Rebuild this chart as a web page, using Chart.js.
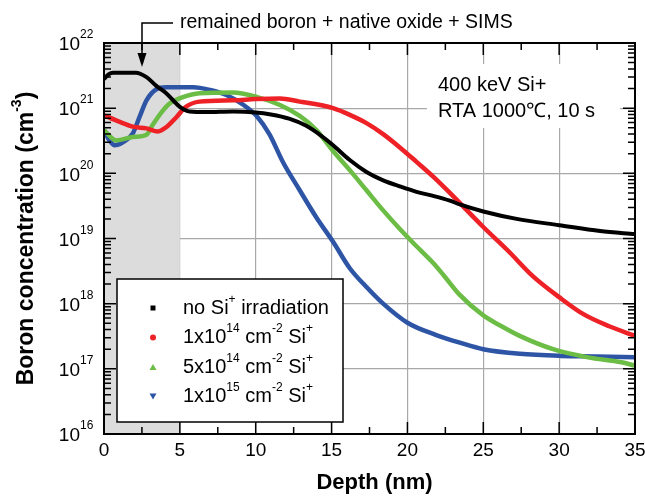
<!DOCTYPE html>
<html>
<head>
<meta charset="utf-8">
<script src="https://cdn.jsdelivr.net/npm/chart.js@4.4.1/dist/chart.umd.min.js"></script>
<style>
  html, body { margin: 0; padding: 0; background: #fff; }
  canvas { display: block; }
</style>
</head>
<body>
<canvas id="boronChart" width="645" height="497"></canvas>
<script>
// depth (nm) and boron concentration (cm^-3)
const depthNoSi = [0, 0.3, 0.6, 1.2, 2.1, 2.8, 3.45, 4.1, 5.0, 5.65, 6.75, 8.5, 10, 11.0, 12.2, 13.3, 14.3, 15.1, 16.2, 17.3, 18.4, 19.5, 20.6, 21.7, 22.8, 23.5, 25, 27.2, 30, 32.7, 35];
const concNoSi = [2.8e21, 3.3e21, 3.5e21, 3.5e21, 3.5e21, 3.0e21, 2.2e21, 1.7e21, 1.05e21, 8.9e20, 8.7e20, 8.9e20, 8.6e20, 8.0e20, 6.9e20, 5.4e20, 3.8e20, 2.7e20, 1.6e20, 1.05e20, 7.8e19, 6.3e19, 5.2e19, 4.5e19, 3.8e19, 3.3e19, 2.6e19, 2.0e19, 1.6e19, 1.3e19, 1.17e19];

const depth1e14 = [0, 1.0, 1.9, 2.8, 3.55, 4.1, 4.8, 5.4, 6.3, 8.5, 10, 11.6, 12.9, 14, 15.1, 16.2, 17.3, 18.4, 19.5, 20.6, 21.7, 22.8, 25, 26.6, 28.3, 30, 31.6, 33.3, 35];
const conc1e14 = [7.8e20, 6.2e20, 5.2e20, 4.9e20, 4.4e20, 5.1e20, 7.4e20, 1.05e21, 1.26e21, 1.32e21, 1.38e21, 1.41e21, 1.26e21, 1.15e21, 1.0e21, 7.9e20, 5.9e20, 4.0e20, 2.5e20, 1.5e20, 8.9e19, 5.0e19, 1.5e19, 6.6e18, 2.6e18, 1.26e18, 6.9e17, 4.5e17, 3.2e17];

const depth5e14 = [0, 0.8, 1.9, 2.8, 3.2, 3.8, 4.3, 5.2, 6.3, 8.5, 10.1, 11.6, 12.9, 14, 15.1, 16.2, 17.3, 18.4, 19.5, 20.6, 21.7, 22.4, 23.4, 25, 26.2, 27.4, 29.6, 31.9, 34.1, 35];
const conc5e14 = [4.6e20, 3.2e20, 3.6e20, 3.9e20, 5.5e20, 8.7e20, 1.17e21, 1.48e21, 1.7e21, 1.74e21, 1.48e21, 1.12e21, 7.6e20, 4.6e20, 2.2e20, 1.12e20, 5.5e19, 2.7e19, 1.4e19, 7.6e18, 4.2e18, 2.7e18, 1.4e18, 6.6e17, 4.5e17, 3.2e17, 2.0e17, 1.5e17, 1.26e17, 1.12e17];

const depth1e15 = [0, 0.36, 0.7, 1.24, 1.9, 2.35, 2.8, 3.45, 4.1, 5.9, 7.0, 8.1, 9.2, 10.1, 10.9, 11.8, 12.9, 14, 15.1, 16.2, 17.3, 18.4, 20, 21.9, 23.5, 25, 27.4, 30.1, 32.5, 35];
const conc1e15 = [4.6e20, 3.2e20, 2.7e20, 3.0e20, 4.1e20, 7.4e20, 1.32e21, 1.95e21, 2.1e21, 2.1e21, 1.9e21, 1.58e21, 1.12e21, 7.4e20, 4.0e20, 1.48e20, 5.5e19, 2.1e19, 8.9e18, 3.5e18, 1.8e18, 1.0e18, 5.1e17, 3.3e17, 2.5e17, 2.0e17, 1.7e17, 1.58e17, 1.55e17, 1.5e17];

const xTicks = [0, 5, 10, 15, 20, 25, 30, 35];
const yDecades = [16, 17, 18, 19, 20, 21, 22];
const shadeEnd = 5; // nm, oxide / remained boron zone

const FONT = '"Liberation Sans", Arial, Helvetica, sans-serif';

function pts(xs, ys) {
  return xs.map((d, i) => ({ x: d, y: ys[i] }));
}

// text with superscript pieces, parts = [[text, isSup], ...]
function richWidth(ctx, parts, size, weight) {
  let w = 0;
  parts.forEach(([t, sup]) => {
    ctx.font = weight + ' ' + (sup ? Math.round(size * 0.62) : size) + 'px ' + FONT;
    w += ctx.measureText(t).width;
  });
  return w;
}
function drawRich(ctx, parts, x, y, size, weight) {
  let cx = x;
  parts.forEach(([t, sup]) => {
    ctx.font = weight + ' ' + (sup ? Math.round(size * 0.62) : size) + 'px ' + FONT;
    ctx.fillText(t, cx, sup ? y - size * 0.42 : y);
    cx += ctx.measureText(t).width;
  });
}

const series = [
  { label: [['no Si', 0], ['+', 1], [' irradiation', 0]], xs: depthNoSi, ys: concNoSi, color: '#000000', marker: 'square', width: 4 },
  { label: [['1x10', 0], ['14', 1], [' cm', 0], ['-2', 1], [' Si', 0], ['+', 1]], xs: depth1e14, ys: conc1e14, color: '#ee2127', marker: 'circle', width: 4.5 },
  { label: [['5x10', 0], ['14', 1], [' cm', 0], ['-2', 1], [' Si', 0], ['+', 1]], xs: depth5e14, ys: conc5e14, color: '#6cbd45', marker: 'up', width: 4.5 },
  { label: [['1x10', 0], ['15', 1], [' cm', 0], ['-2', 1], [' Si', 0], ['+', 1]], xs: depth1e15, ys: conc1e15, color: '#2e55a5', marker: 'down', width: 4.5 }
];

const deco = {
  id: 'deco',
  beforeDatasetsDraw(chart) {
    const { ctx, chartArea: a, scales: { x } } = chart;
    ctx.save();
    ctx.fillStyle = '#dcdcdc';
    ctx.fillRect(a.left, a.top, x.getPixelForValue(shadeEnd) - a.left, a.bottom - a.top);
    // white backing of the condition text
    ctx.fillStyle = '#ffffff';
    ctx.fillRect(427, 64, 193, 64);
    ctx.restore();
  },
  afterDatasetsDraw(chart) {
    const { ctx, chartArea: a, scales: { x, y } } = chart;
    ctx.save();
    ctx.strokeStyle = '#000';
    ctx.fillStyle = '#000';

    // inward ticks
    ctx.lineWidth = 1.5;
    ctx.beginPath();
    for (let d = 0; d <= 35; d += 2.5) {
      const px = x.getPixelForValue(d);
      const len = d % 5 === 0 ? 12 : 7;
      ctx.moveTo(px, a.bottom); ctx.lineTo(px, a.bottom - len);
      ctx.moveTo(px, a.top); ctx.lineTo(px, a.top + len);
    }
    for (let e = 16; e <= 21; e++) {
      for (let m = 1; m <= 9; m++) {
        const py = y.getPixelForValue(m * Math.pow(10, e));
        const len = m === 1 ? 12 : 7;
        ctx.moveTo(a.left, py); ctx.lineTo(a.left + len, py);
        ctx.moveTo(a.right, py); ctx.lineTo(a.right - len, py);
      }
    }
    ctx.stroke();

    // frame
    ctx.lineWidth = 2;
    ctx.strokeRect(a.left, a.top, a.right - a.left, a.bottom - a.top);

    // tick labels
    ctx.textBaseline = 'middle';
    ctx.textAlign = 'center';
    ctx.font = '19px ' + FONT;
    xTicks.forEach(d => ctx.fillText(String(d), x.getPixelForValue(d), a.bottom + 17));
    yDecades.forEach(e => {
      const py = y.getPixelForValue(Math.pow(10, e));
      ctx.textAlign = 'right';
      ctx.font = '19px ' + FONT;
      ctx.fillText('10', 80, py + 2);
      ctx.textAlign = 'left';
      ctx.font = '12px ' + FONT;
      ctx.fillText(String(e), 80, py - 8);
    });

    // axis titles
    ctx.textAlign = 'center';
    ctx.font = 'bold 22px ' + FONT;
    ctx.fillText('Depth (nm)', (a.left + a.right) / 2 + 5, 483);
    const yTitle = [['Boron concentration (cm', 0], ['-3', 1], [')', 0]];
    ctx.textAlign = 'left';
    ctx.save();
    ctx.translate(27, (a.top + a.bottom) / 2);
    ctx.rotate(-Math.PI / 2);
    const tw = richWidth(ctx, yTitle, 23, 'bold');
    drawRich(ctx, yTitle, -tw / 2, 0, 23, 'bold');
    ctx.restore();

    // annotation with arrow
    ctx.font = '19.5px ' + FONT;
    ctx.fillText('remained boron + native oxide + SIMS', 180, 23);
    ctx.lineWidth = 1.5;
    ctx.beginPath();
    ctx.moveTo(173, 23); ctx.lineTo(142, 23); ctx.lineTo(142, 55);
    ctx.stroke();
    ctx.beginPath();
    ctx.moveTo(137.5, 53); ctx.lineTo(146.5, 53); ctx.lineTo(142, 67); ctx.closePath();
    ctx.fill();

    // condition text
    ctx.font = '20px ' + FONT;
    ctx.fillText('400 keV Si+', 438, 85);
    ctx.fillText('RTA 1000\u2103, 10 s', 438, 111);

    // legend
    ctx.fillStyle = '#fff';
    ctx.fillRect(117, 279, 226, 143);
    ctx.lineWidth = 1.5;
    ctx.strokeStyle = '#000';
    ctx.strokeRect(117, 279, 226, 143);
    series.forEach((s, i) => {
      const cy = 308 + i * 29.5;
      const mx = 153;
      ctx.fillStyle = s.color;
      ctx.beginPath();
      if (s.marker === 'square') ctx.rect(mx - 2.5, cy - 2.5, 5, 5);
      else if (s.marker === 'circle') ctx.arc(mx, cy, 3, 0, Math.PI * 2);
      else if (s.marker === 'up') { ctx.moveTo(mx - 3.5, cy + 3); ctx.lineTo(mx + 3.5, cy + 3); ctx.lineTo(mx, cy - 3); }
      else { ctx.moveTo(mx - 3.5, cy - 3); ctx.lineTo(mx + 3.5, cy - 3); ctx.lineTo(mx, cy + 3); }
      ctx.fill();
      ctx.fillStyle = '#000';
      drawRich(ctx, s.label, 183, cy, 20, 'normal');
    });
    ctx.restore();
  }
};

new Chart(document.getElementById('boronChart'), {
  type: 'line',
  data: {
    datasets: series.map(s => ({
      data: pts(s.xs, s.ys),
      borderColor: s.color,
      backgroundColor: s.color,
      borderWidth: s.width,
      pointRadius: 0,
      cubicInterpolationMode: 'monotone',
      fill: false
    }))
  },
  options: {
    responsive: false,
    animation: false,
    devicePixelRatio: 1,
    layout: { padding: { left: 104, right: 10, top: 43, bottom: 63 } },
    plugins: { legend: { display: false }, tooltip: { enabled: false } },
    scales: {
      x: {
        type: 'linear', min: 0, max: 35,
        ticks: { display: false, stepSize: 5 },
        grid: { color: '#a8a8a8', lineWidth: 1.2, drawTicks: false },
        border: { display: false },
        afterFit(s) { s.height = 0; }
      },
      y: {
        type: 'logarithmic', min: 1e16, max: 1e22,
        ticks: { display: false },
        afterBuildTicks(s) { s.ticks = yDecades.map(e => ({ value: Math.pow(10, e) })); },
        grid: { color: '#a8a8a8', lineWidth: 1.2, drawTicks: false },
        border: { display: false },
        afterFit(s) { s.width = 0; }
      }
    }
  },
  plugins: [deco]
});
</script>
</body>
</html>
